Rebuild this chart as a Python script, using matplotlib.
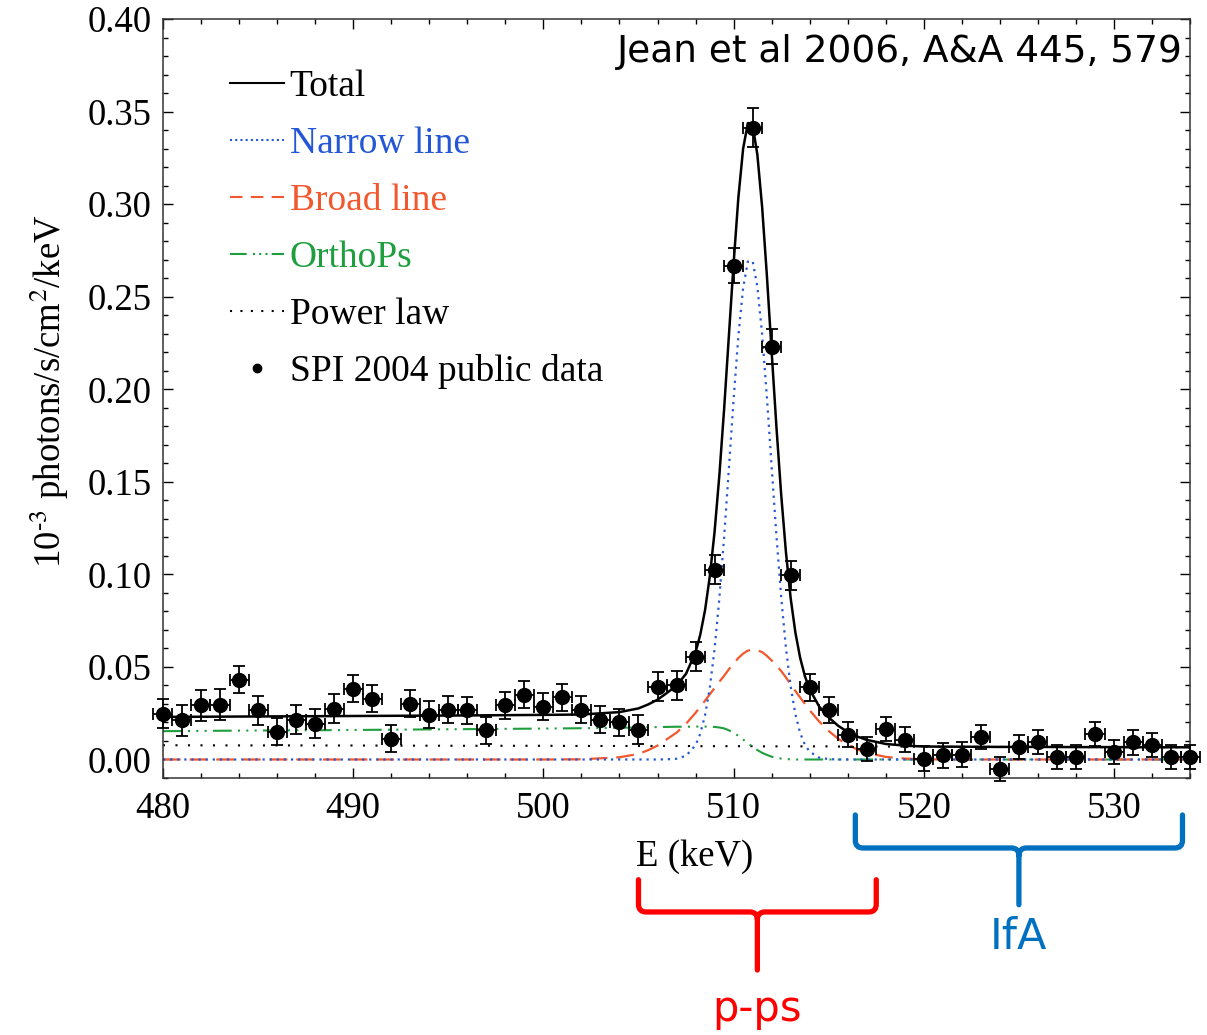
import matplotlib
matplotlib.use("Agg")
import matplotlib.pyplot as plt
from matplotlib.lines import Line2D
from matplotlib.path import Path
from matplotlib.patches import PathPatch
from matplotlib.ticker import MultipleLocator, FormatStrFormatter
import matplotlib.transforms as mtransforms

# --- data points (SPI 2004 public data), 1 keV bins ---
energy = list(range(480, 535))
flux = [0.0248, 0.0211, 0.0292, 0.0297, 0.0432, 0.0265, 0.0151, 0.0216, 0.0194, 0.0275,
        0.0383, 0.0329, 0.0113, 0.0302, 0.0243, 0.0270, 0.0265, 0.0157, 0.0292, 0.0351,
        0.0286, 0.0335, 0.0270, 0.0216, 0.0200, 0.0162, 0.0394, 0.0400, 0.0556, 0.1026,
        0.2667, 0.3413, 0.2230, 0.0994, 0.0389, 0.0265, 0.0135, 0.0059, 0.0167, 0.0108,
        0.0005, 0.0022, 0.0027, 0.0124, -0.0049, 0.0070, 0.0097, 0.0016, 0.0016, 0.0140,
        0.0038, 0.0092, 0.0076, 0.0016, 0.0016]
flux_err = [0.0080, 0.0085, 0.0085, 0.0085, 0.0075, 0.0078, 0.0075, 0.0078, 0.0078, 0.0078,
            0.0075, 0.0075, 0.0075, 0.0075, 0.0075, 0.0075, 0.0075, 0.0075, 0.0075, 0.0075,
            0.0075, 0.0075, 0.0075, 0.0075, 0.0075, 0.0078, 0.0078, 0.0078, 0.0078, 0.0080,
            0.0095, 0.0105, 0.0095, 0.0080, 0.0075, 0.0070, 0.0068, 0.0065, 0.0065, 0.0065,
            0.0068, 0.0068, 0.0068, 0.0065, 0.0065, 0.0065, 0.0065, 0.0065, 0.0065, 0.0065,
            0.0065, 0.0065, 0.0065, 0.0065, 0.0065]
bin_half = 0.5

# --- fitted model components ---
model_e = [480, 484, 488, 492, 496, 500, 502, 504, 505, 505.5,
           506, 506.5, 507, 507.5, 508, 508.25, 508.5, 508.75, 509, 509.25,
           509.5, 509.75, 510, 510.25, 510.5, 510.75, 511, 511.25, 511.5, 511.75,
           512, 512.25, 512.5, 512.75, 513, 513.25, 513.5, 513.75, 514, 514.5,
           515, 515.5, 516, 516.5, 517, 518, 519, 520, 522, 524,
           526, 528, 530, 532, 534]
narrow = [0, 0, 0, 0, 0, 0, 0, 0, 0, 0,
          0, 0.0001, 0.0004, 0.0020, 0.0077, 0.0140, 0.0239, 0.0388, 0.0596, 0.0868,
          0.1198, 0.1568, 0.1944, 0.2286, 0.2547, 0.2690, 0.2693, 0.2555, 0.2298, 0.1959,
          0.1583, 0.1212, 0.0880, 0.0605, 0.0395, 0.0244, 0.0143, 0.0079, 0.0042, 0.0010,
          0.0002, 0, 0, 0, 0, 0, 0, 0, 0, 0,
          0, 0, 0, 0, 0]
broad = [0, 0, 0, 0, 0, 0, 0.0001, 0.0012, 0.0030, 0.0050,
         0.0075, 0.0110, 0.0145, 0.0193, 0.0252, 0.0285, 0.0318, 0.0352, 0.0386, 0.0420,
         0.0452, 0.0487, 0.0518, 0.0548, 0.0572, 0.0588, 0.0594, 0.0590, 0.0580, 0.0560,
         0.0535, 0.0508, 0.0478, 0.0444, 0.0405, 0.0370, 0.0335, 0.0300, 0.0266, 0.0205,
         0.0154, 0.0112, 0.0079, 0.0054, 0.0036, 0.0014, 0.0005, 0.0001, 0, 0,
         0, 0, 0, 0, 0]
ortho = [0.0153, 0.0156, 0.0158, 0.0161, 0.0164, 0.0167, 0.0169, 0.0171, 0.0173, 0.0174,
         0.0175, 0.0176, 0.0177, 0.0177, 0.0178, 0.0178, 0.0178, 0.0177, 0.0176, 0.0173,
         0.0168, 0.0158, 0.0144, 0.0128, 0.0108, 0.0088, 0.0068, 0.0051, 0.0036, 0.0025,
         0.0015, 0.0009, 0.0005, 0.0002, 0.0001, 0, 0, 0, 0, 0,
         0, 0, 0, 0, 0, 0, 0, 0, 0, 0,
         0, 0, 0, 0, 0]
powerlaw = [0.0077, 0.0076, 0.0076, 0.0075, 0.0074, 0.0074, 0.0073, 0.0073, 0.0073, 0.0073,
            0.0073, 0.0073, 0.0073, 0.0073, 0.0072, 0.0072, 0.0072, 0.0072, 0.0072, 0.0072,
            0.0072, 0.0072, 0.0072, 0.0072, 0.0072, 0.0072, 0.0072, 0.0071, 0.0071, 0.0071,
            0.0071, 0.0071, 0.0071, 0.0071, 0.0071, 0.0071, 0.0071, 0.0071, 0.0071, 0.0071,
            0.0071, 0.0070, 0.0070, 0.0070, 0.0070, 0.0070, 0.0070, 0.0069, 0.0069, 0.0068,
            0.0068, 0.0067, 0.0067, 0.0066, 0.0066]
total = [n + b + o + p for n, b, o, p in zip(narrow, broad, ortho, powerlaw)]

# brace annotations below the axis (energy ranges)
pps_range = (505.0, 517.5)
ifa_range = (516.4, 533.6)

C_NARROW = "#2457d6"
C_BROAD = "#f2582e"
C_ORTHO = "#1f9e3e"

plt.rcParams["font.family"] = ["Liberation Serif", "DejaVu Serif"]
plt.rcParams["mathtext.fontset"] = "stix"

fig = plt.figure(figsize=(12.07, 10.35), dpi=100)
ax = fig.add_axes([0.135, 0.2483, 0.851, 0.7333])

# --- model curves ---
ax.plot(model_e, powerlaw, color="black", lw=1.5, ls=(0, (1, 5)), zorder=2)
ax.plot(model_e, ortho, color=C_ORTHO, lw=1.5, ls=(0, (9, 3, 1, 3, 1, 3, 1, 3)), zorder=2)
ax.plot(model_e, broad, color=C_BROAD, lw=1.6, ls=(0, (8, 4)), zorder=2)
ax.plot(model_e, narrow, color=C_NARROW, lw=1.6, ls=(0, (1, 2.2)), zorder=2)
ax.plot(model_e, total, color="black", lw=1.8, zorder=3)

# --- data ---
ax.errorbar(energy, flux, xerr=bin_half, yerr=flux_err, fmt="o", color="black",
            ms=10, elinewidth=1.3, capsize=4, capthick=1.3, zorder=5, clip_on=False)

ax.set_xlim(480, 534)
ax.set_ylim(-0.01, 0.40)
ax.xaxis.set_major_locator(MultipleLocator(10))
ax.xaxis.set_minor_locator(MultipleLocator(2))
ax.yaxis.set_major_locator(MultipleLocator(0.05))
ax.yaxis.set_minor_locator(MultipleLocator(0.01))
ax.yaxis.set_major_formatter(FormatStrFormatter("%.2f"))
ax.tick_params(which="both", direction="in", top=True, right=True, labelsize=26.5, width=1)
ax.tick_params(which="major", length=7)
ax.tick_params(which="minor", length=3.5)
ax.tick_params(axis="y", pad=8)
ax.tick_params(axis="x", pad=10)
for s in ax.spines.values():
    s.set_linewidth(1.1)
    s.set_color("#333333")

ax.set_xlabel("E (keV)", fontsize=26.5)
ax.xaxis.label.set_va("center")
ax.xaxis.set_label_coords(0.518, -0.104)
ax.set_ylabel(r"10$^{\text{-3}}$ photons/s/cm$^{2}$/keV", fontsize=26.5)
ax.yaxis.label.set_va("center")
ax.yaxis.set_label_coords(-0.11, 0.51)

ax.text(0.993, 0.9565, "Jean et al 2006, A&A 445, 579", transform=ax.transAxes,
        ha="right", va="center", fontsize=27, family="DejaVu Sans")

# --- legend ---
handles = [
    Line2D([], [], color="black", lw=1.5),
    Line2D([], [], color=C_NARROW, lw=1.5, ls=(0, (1, 1.5))),
    Line2D([], [], color=C_BROAD, lw=1.5, ls=(0, (6, 4))),
    Line2D([], [], color=C_ORTHO, lw=1.5, ls=(0, (8, 3, 1, 2, 1, 2, 1, 2))),
    Line2D([], [], color="black", lw=1.5, ls=(0, (1, 4))),
    Line2D([], [], color="black", ls="none", marker="o", ms=6),
]
labels = ["Total", "Narrow line", "Broad line", "OrthoPs", "Power law", "SPI 2004 public data"]
leg = ax.legend(handles, labels, loc="upper left", bbox_to_anchor=(0.065, 0.934),
                frameon=False, fontsize=27, handlelength=1.45, handletextpad=0.15,
                labelspacing=0.6, borderpad=0, borderaxespad=0, labelcolor="linecolor")

# --- curly braces below the axis ---
def draw_brace(ax, x0, x1, y_top, y_bar, y_tip, color, rx=0.4, ry=0.01):
    trans = mtransforms.blended_transform_factory(ax.transData, ax.transAxes)
    xm = 0.5 * (x0 + x1)
    verts = [(x0, y_top), (x0, y_bar + ry), (x0, y_bar), (x0 + rx, y_bar),
             (xm - rx, y_bar), (xm, y_bar), (xm, y_bar - ry), (xm, y_tip),
             (xm, y_bar - ry), (xm, y_bar), (xm + rx, y_bar),
             (x1 - rx, y_bar), (x1, y_bar), (x1, y_bar + ry), (x1, y_top)]
    codes = [Path.MOVETO, Path.LINETO, Path.CURVE3, Path.CURVE3,
             Path.LINETO, Path.CURVE3, Path.CURVE3, Path.LINETO,
             Path.MOVETO, Path.CURVE3, Path.CURVE3,
             Path.LINETO, Path.CURVE3, Path.CURVE3, Path.LINETO]
    patch = PathPatch(Path(verts, codes), facecolor="none", edgecolor=color, lw=3.8,
                      transform=trans, clip_on=False, capstyle="round", joinstyle="round")
    ax.add_patch(patch)
    return trans, xm

trans, xm = draw_brace(ax, pps_range[0], pps_range[1], -0.134, -0.1765, -0.253, "#ff0000")
ax.text(xm, -0.305, "p-ps", transform=trans, ha="center", va="center", color="#ff0000",
        fontsize=30, family="DejaVu Sans")
trans, xm = draw_brace(ax, ifa_range[0], ifa_range[1], -0.0487, -0.0922, -0.167, "#0070c0")
ax.text(xm, -0.2095, "IfA", transform=trans, ha="center", va="center", color="#0070c0",
        fontsize=31, family="DejaVu Sans")

fig.savefig("out.png", dpi=100)
